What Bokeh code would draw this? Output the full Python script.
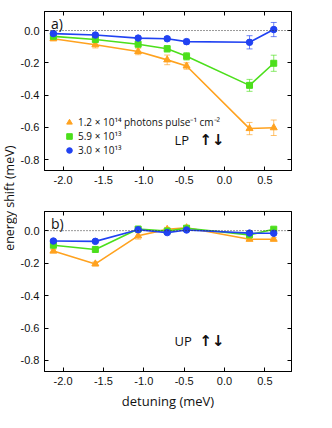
import math
from bokeh.plotting import figure
from bokeh.models import (ColumnDataSource, Whisker, TeeHead, Span, Label, Legend,
                          LegendItem, LinearAxis, FixedTicker, Range1d, CustomLabelingPolicy)
from bokeh.layouts import row, column
from bokeh.embed import file_html
from bokeh.resources import INLINE

# ---------------- data ----------------
detuning = [-2.12, -1.60, -1.07, -0.71, -0.47, 0.31, 0.61]

# LP (panel a)
lp_high = [-0.051, -0.088, -0.130, -0.182, -0.220, -0.608, -0.603]
lp_high_err = [0.012, 0.020, 0.020, 0.030, 0.020, 0.038, 0.048]
lp_mid = [-0.036, -0.056, -0.085, -0.113, -0.160, -0.340, -0.203]
lp_mid_err = [0.010, 0.012, 0.012, 0.020, 0.023, 0.037, 0.050]
lp_low = [-0.019, -0.028, -0.047, -0.051, -0.069, -0.073, 0.006]
lp_low_err = [0.010, 0.012, 0.010, 0.012, 0.015, 0.041, 0.044]

# UP (panel b)
up_high = [-0.126, -0.205, -0.032, 0.008, 0.018, -0.053, -0.053]
up_high_err = [0.010, 0.012, 0.020, 0.012, 0.012, 0.010, 0.010]
up_mid = [-0.090, -0.116, 0.010, -0.002, 0.015, -0.026, 0.009]
up_mid_err = [0.008, 0.008, 0.008, 0.008, 0.008, 0.008, 0.008]
up_low = [-0.064, -0.066, 0.006, -0.012, 0.004, -0.015, -0.016]
up_low_err = [0.008, 0.008, 0.008, 0.008, 0.008, 0.008, 0.008]

series_labels = ["1.2 × 10¹⁴ photons pulse⁻¹ cm⁻²", "5.9 × 10¹³", "3.0 × 10¹³"]
x_ticks = [-2.0, -1.5, -1.0, -0.5, 0.0, 0.5]
x_tick_labels = ["-2.0", "-1.5", "-1.0", "-0.5", "0.0", "0.5"]
y_ticks = [-0.8, -0.6, -0.4, -0.2, 0.0]
y_tick_labels = ["-0.8", "-0.6", "-0.4", "-0.2", "0.0"]

COLORS = ["#FFA21F", "#4CDF1C", "#2142F2"]
MARKERS = ["triangle", "square", "circle"]
SIZES = [7, 6, 6.5]
TICK_FONT = "Liberation Sans"
LABEL_FONT = "Open Sans"

NO_LABELS = CustomLabelingPolicy(code="""
for (const i of Array.from(indices)) { indices.unset(i) }
return indices
""")


def style_axis(ax, show_labels, labels):
    ax.major_tick_in = 4
    ax.major_tick_out = 0
    ax.minor_tick_in = 0
    ax.minor_tick_out = 0
    ax.axis_line_color = "black"
    ax.major_tick_line_color = "black"
    if show_labels:
        ax.major_label_text_font = TICK_FONT
        ax.major_label_text_font_size = "11px"
        ax.major_label_text_color = "#111111"
        ax.major_label_standoff = 5
        ax.major_label_overrides = labels
    else:
        ax.major_label_policy = NO_LABELS
        ax.major_label_standoff = 0


def make_panel(height, mb_top, mb_bottom, series, letter, tag, xlabel, legend):
    p = figure(width=299, height=height, x_range=Range1d(-2.23, 0.83),
               y_range=Range1d(-0.868, 0.118), output_backend="svg",
               toolbar_location=None, min_border_left=0, min_border_right=0,
               min_border_top=mb_top, min_border_bottom=mb_bottom)
    p.grid.visible = False
    p.outline_line_color = "black"
    p.outline_line_width = 1
    p.background_fill_color = "white"
    p.border_fill_color = "white"

    bottom_ax = p.below[0]
    left_ax = p.left[0]
    xt = FixedTicker(ticks=x_ticks)
    yt = FixedTicker(ticks=y_ticks)
    xl = {t: s for t, s in zip(x_ticks, x_tick_labels)}
    yl = {t: s for t, s in zip(y_ticks, y_tick_labels)}
    bottom_ax.ticker = xt
    left_ax.ticker = yt
    style_axis(bottom_ax, True, xl)
    style_axis(left_ax, True, yl)
    top_ax = LinearAxis(ticker=xt)
    style_axis(top_ax, False, {})
    right_ax = LinearAxis(ticker=yt)
    style_axis(right_ax, False, {})
    p.add_layout(top_ax, "above")
    p.add_layout(right_ax, "right")

    if xlabel:
        bottom_ax.axis_label = xlabel
        bottom_ax.axis_label_text_font = LABEL_FONT
        bottom_ax.axis_label_text_font_size = "13px"
        bottom_ax.axis_label_text_font_style = "normal"
        bottom_ax.axis_label_text_color = "#111111"
        bottom_ax.axis_label_standoff = 4

    p.add_layout(Span(location=0, dimension="width", line_color="#333333",
                      line_dash="1 2", line_width=1))

    rends = []
    for (vals, errs), col, mk, sz in zip(series, COLORS, MARKERS, SIZES):
        src = ColumnDataSource(dict(
            x=detuning, y=vals,
            lo=[v - e for v, e in zip(vals, errs)],
            hi=[v + e for v, e in zip(vals, errs)]))
        w = Whisker(source=src, base="x", lower="lo", upper="hi",
                    line_color=col, line_alpha=0.65, line_width=1,
                    upper_head=TeeHead(size=6, line_color=col, line_alpha=0.65, line_width=1),
                    lower_head=TeeHead(size=6, line_color=col, line_alpha=0.65, line_width=1))
        p.add_layout(w)
        p.line("x", "y", source=src, line_color=col, line_width=1.6)
        r = p.scatter("x", "y", source=src, marker=mk, size=sz,
                      fill_color=col, line_color=col)
        rends.append(r)

    p.add_layout(Label(x=-2.15, y=0.045, text=letter, text_font=LABEL_FONT,
                       text_font_size="14px", text_baseline="middle",
                       text_color="#111111"))
    p.add_layout(Label(x=-0.62, y=-0.68, text=tag, text_font=LABEL_FONT,
                       text_font_size="13px", text_baseline="middle",
                       text_color="#111111"))
    p.add_layout(Label(x=-0.31, y=-0.68, text="↑↓", text_font="DejaVu Sans",
                       text_font_size="15px", text_font_style="bold",
                       text_baseline="middle", text_color="#111111"))

    if legend:
        items = [LegendItem(label=lab, renderers=[r]) for lab, r in zip(series_labels, rends)]
        leg = Legend(items=items, location=(18, 13), orientation="vertical",
                     background_fill_alpha=0, border_line_alpha=0,
                     label_text_font=LABEL_FONT, label_text_font_size="10px",
                     label_text_color="#111111",
                     glyph_width=14, glyph_height=14, label_height=14,
                     label_standoff=2, spacing=0, padding=0, margin=0)
        p.add_layout(leg)
    return p


top = make_panel(200, 1, 30,
                 [(lp_high, lp_high_err), (lp_mid, lp_mid_err), (lp_low, lp_low_err)],
                 "a)", "LP", None, True)
bottom = make_panel(212, 6, 38,
                    [(up_high, up_high_err), (up_mid, up_mid_err), (up_low, up_low_err)],
                    "b)", "UP", "detuning (meV)", False)

lab = figure(width=17, height=412, x_range=Range1d(0, 1), y_range=Range1d(0, 1),
             output_backend="svg", toolbar_location=None, min_border=0,
             x_axis_type=None, y_axis_type=None)
lab.grid.visible = False
lab.outline_line_color = None
lab.add_layout(Label(x=0.5, y=0.52, text="energy shift (meV)", angle=math.pi / 2,
                     text_align="center", text_baseline="middle",
                     text_font=LABEL_FONT, text_font_size="12.5px", text_color="#111111"))

layout = row(lab, column(top, bottom, spacing=0), spacing=0)

open("out.html", "w").write(file_html(layout, INLINE))
